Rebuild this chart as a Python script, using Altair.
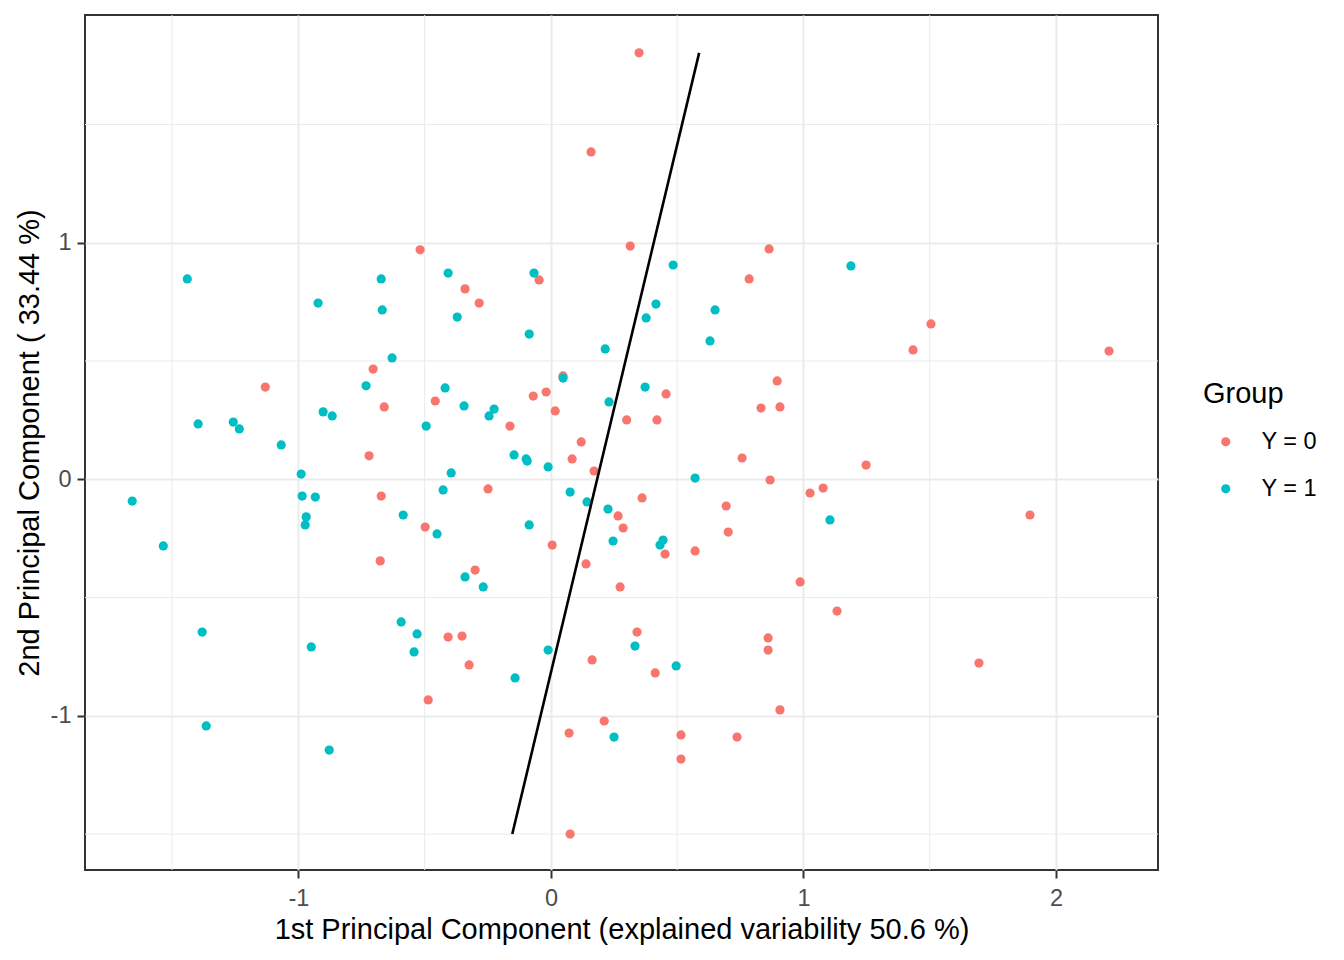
import altair as alt
import pandas as pd

# Group Y = 0 (red)
pc1_y0 = [0.349, 0.159, 0.314, -0.518, 0.864, -0.047, -0.340, -0.284, 0.785, 1.505,
          1.434, 2.210, -1.131, -0.704, 0.896, -0.019, -0.070, -0.660, -0.458, 0.456,
          0.832, 0.907, 0.017, 0.300, 0.420, -0.162, 0.120, -0.720, 0.084, 0.171,
          1.248, 0.757, 0.868, 1.026, 1.078, -0.249, -0.672, 0.361, 0.694, 1.897,
          0.266, -0.498, 0.286, 0.702, 0.005, 0.452, 0.571, -0.676, 0.139, -0.300,
          0.274, 0.987, 1.133, 0.341, -0.352, -0.407, 0.860, 0.860, 1.695, -0.324,
          0.163, 0.413, -0.486, 0.907, 0.072, 0.515, 0.211, 0.737, 0.515, 0.076,
          0.048]
pc2_y0 = [1.803, 1.384, 0.986, 0.970, 0.974, 0.843, 0.805, 0.745, 0.847, 0.657,
          0.547, 0.542, 0.390, 0.466, 0.416, 0.369, 0.352, 0.306, 0.331, 0.361,
          0.301, 0.306, 0.289, 0.251, 0.251, 0.225, 0.158, 0.099, 0.086, 0.035,
          0.060, 0.090, -0.003, -0.058, -0.037, -0.041, -0.071, -0.079, -0.113, -0.151,
          -0.155, -0.202, -0.206, -0.223, -0.278, -0.316, -0.303, -0.345, -0.358, -0.384,
          -0.455, -0.434, -0.557, -0.646, -0.663, -0.667, -0.671, -0.722, -0.777, -0.785,
          -0.764, -0.819, -0.933, -0.975, -1.073, -1.081, -1.022, -1.090, -1.183, -1.500,
          0.437]

# Group Y = 1 (cyan)
pc1_y1 = [-1.440, -0.672, -0.407, -0.067, -0.922, -0.668, -0.371, 0.484, 1.188, 0.416,
          0.377, 0.650, -0.086, 0.630, 0.215, -0.629, 0.048, -0.732, -0.419, 0.373,
          0.230, -0.344, -0.225, -0.245, -0.902, -0.866, -1.258, -1.234, -1.397, -0.494,
          -1.068, -0.146, -0.098, -0.094, -0.011, -0.395, -0.989, 0.571, -0.427, -0.985,
          -0.933, 0.076, 0.143, -1.658, 0.226, -0.585, -0.969, -0.973, 1.105, -0.086,
          -0.451, 0.246, 0.444, 0.432, -1.535, -0.340, -0.268, -0.593, -0.530, -0.542,
          -0.949, -1.381, 0.333, -0.011, 0.496, -0.142, -1.365, -0.878, 0.250]
pc2_y1 = [0.847, 0.847, 0.872, 0.872, 0.745, 0.716, 0.686, 0.906, 0.902, 0.741,
          0.682, 0.716, 0.614, 0.585, 0.551, 0.513, 0.428, 0.395, 0.386, 0.390,
          0.327, 0.310, 0.297, 0.268, 0.285, 0.268, 0.242, 0.213, 0.234, 0.225,
          0.145, 0.103, 0.086, 0.077, 0.052, 0.027, 0.022, 0.005, -0.045, -0.071,
          -0.075, -0.054, -0.096, -0.092, -0.126, -0.151, -0.159, -0.193, -0.172, -0.193,
          -0.231, -0.261, -0.257, -0.278, -0.282, -0.413, -0.455, -0.603, -0.654, -0.730,
          -0.709, -0.646, -0.705, -0.722, -0.789, -0.840, -1.043, -1.145, -1.090]

groups = ["Y = 0", "Y = 1"]
colors = ["#F8766D", "#00BFC4"]

# separating line end points
line_pc1 = [-0.153, 0.587]
line_pc2 = [-1.500, 1.803]

major_x = [-1, 0, 1, 2]
major_y = [-1, 0, 1]
minor_x = [-1.5, -0.5, 0.5, 1.5]
minor_y = [-1.5, -0.5, 0.5, 1.5]

x_domain = [-1.845, 2.404]
y_domain = [-1.652, 1.963]

points = pd.DataFrame({
    "PC1": pc1_y0 + pc1_y1,
    "PC2": pc2_y0 + pc2_y1,
    "Group": [groups[0]] * len(pc1_y0) + [groups[1]] * len(pc1_y1),
})
line_df = pd.DataFrame({"PC1": line_pc1, "PC2": line_pc2})
minor_x_df = pd.DataFrame({"v": minor_x})
minor_y_df = pd.DataFrame({"v": minor_y})

FONT = "Liberation Sans"
xscale = alt.Scale(domain=x_domain, nice=False, zero=False)
yscale = alt.Scale(domain=y_domain, nice=False, zero=False)

x_title = "1st Principal Component (explained variability 50.6 %)"
y_title = "2nd Principal Component ( 33.44 %)"

minor_vx = alt.Chart(minor_x_df).mark_rule(color="#EBEBEB", strokeWidth=1).encode(
    x=alt.X("v:Q", scale=xscale)
)
minor_hy = alt.Chart(minor_y_df).mark_rule(color="#EBEBEB", strokeWidth=1).encode(
    y=alt.Y("v:Q", scale=yscale)
)

pts = alt.Chart(points).mark_circle(size=85, opacity=1).encode(
    x=alt.X("PC1:Q", scale=xscale,
            axis=alt.Axis(values=major_x, title=x_title,
                          labelExpr="'' + datum.value")),
    y=alt.Y("PC2:Q", scale=yscale,
            axis=alt.Axis(values=major_y, title=y_title,
                          labelExpr="'' + datum.value")),
    color=alt.Color("Group:N", scale=alt.Scale(domain=groups, range=colors),
                    legend=alt.Legend(title="Group", orient="none",
                                      legendX=1118, legendY=365)),
)

line = alt.Chart(line_df).mark_line(color="black", strokeWidth=2.6).encode(
    x=alt.X("PC1:Q", scale=xscale),
    y=alt.Y("PC2:Q", scale=yscale),
)

chart = alt.layer(minor_vx, minor_hy, pts, line).properties(
    width=1073, height=855,
    padding={"left": 77, "top": 7, "right": 178, "bottom": 82},
    autosize=alt.AutoSizeParams(type="none"),
    background="white",
).configure_view(
    stroke="#333333", strokeWidth=2
).configure_axis(
    domain=False,
    grid=True, gridColor="#EBEBEB", gridWidth=2,
    ticks=True, tickColor="#333333", tickWidth=2, tickSize=8,
    labelFont=FONT, labelFontSize=23.5, labelColor="#4D4D4D",
    titleFont=FONT, titleFontSize=29, titleColor="black", titleFontWeight="normal",
).configure_axisX(
    labelPadding=8, titlePadding=6,
).configure_axisY(
    labelPadding=6, titlePadding=6,
).configure_legend(
    titleFont=FONT, titleFontSize=29, titleFontWeight="normal", titleColor="black",
    labelFont=FONT, labelFontSize=23.5, labelColor="black",
    symbolType="circle", symbolSize=85, symbolStrokeWidth=0,
    rowPadding=22, titlePadding=21, symbolOffset=11, labelOffset=24,
)

chart.save("out.html", embed_options={"renderer": "svg", "actions": False})
